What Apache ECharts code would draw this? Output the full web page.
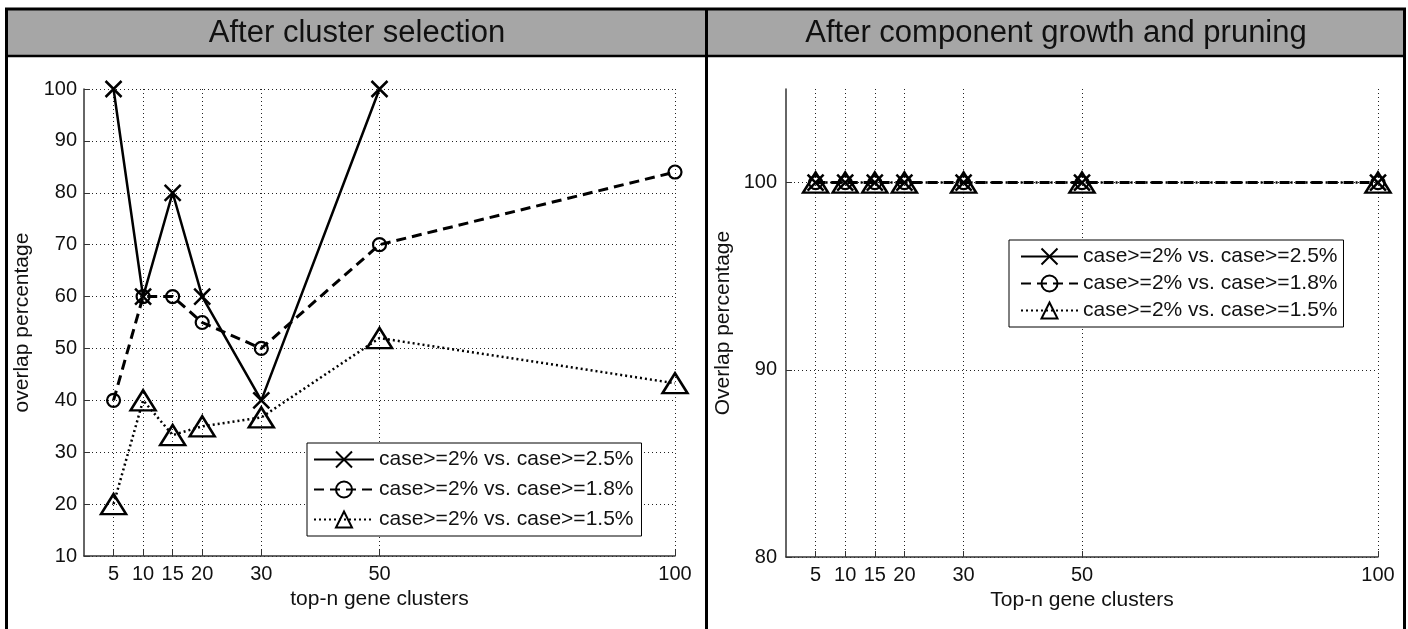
<!DOCTYPE html>
<html><head><meta charset="utf-8">
<script src="https://cdn.jsdelivr.net/npm/echarts@6/dist/echarts.min.js"></script>
<style>html,body{margin:0;padding:0;background:#fff;} #c{width:1408px;height:629px;}</style>
</head><body><div id="c"></div>
<script>
// ---- data ----
const xTicks = [5, 10, 15, 20, 30, 50, 100];
const seriesNames = ['case>=2% vs. case>=2.5%', 'case>=2% vs. case>=1.8%', 'case>=2% vs. case>=1.5%'];
const leftTitle = 'After cluster selection';
const rightTitle = 'After component growth and pruning';
const leftXName = 'top-n gene clusters';
const leftYName = 'overlap percentage';
const rightXName = 'Top-n gene clusters';
const rightYName = 'Overlap percentage';
const leftS1 = [100, 60, 80, 60, 40, 100, null];
const leftS2 = [40, 60, 60, 55, 50, 70, 84];
const leftS3 = [20, 40, 33.3, 35, 36.7, 52, 43.3];
const rightS1 = [100, 100, 100, 100, 100, 100, 100];
const rightS2 = [100, 100, 100, 100, 100, 100, 100];
const rightS3 = [100, 100, 100, 100, 100, 100, 100];
const rightYTicks = [80, 90, 100];

// ---- styles ----
const FONT = '"Liberation Sans", Arial, Helvetica, sans-serif';
const TXT = '#111';
const gridLine = { color: '#222', width: 1, type: [1, 3] };
const axisLineStyle = { color: '#333', width: 1.5 };
const xSym = 'path://M0,0L10,10M10,0L0,10';
const clear = 'rgba(0,0,0,0)';

function pairs(arr) { return xTicks.map((x, i) => [x, arr[i]]); }

function makeSeries(kind, name, arr, gi, hideLine) {
  const base = {
    type: 'line', name: name, xAxisIndex: gi, yAxisIndex: gi,
    data: pairs(arr), clip: false, animation: false,
    emphasis: { disabled: true }, silent: true
  };
  if (kind === 0) {
    Object.assign(base, {
      symbol: xSym, symbolSize: 16,
      itemStyle: { color: clear, borderColor: '#000', borderWidth: 2.5 },
      lineStyle: { color: '#000', width: 2.5, type: 'solid', opacity: hideLine ? 0 : 1 }
    });
  } else if (kind === 1) {
    Object.assign(base, {
      symbol: 'circle', symbolSize: 13,
      itemStyle: { color: clear, borderColor: '#000', borderWidth: 2.2 },
      lineStyle: { color: '#000', width: 3, type: [10, 6] }
    });
  } else {
    Object.assign(base, {
      symbol: 'triangle', symbolSize: [25, 20],
      itemStyle: { color: clear, borderColor: '#000', borderWidth: 2.5 },
      lineStyle: { color: '#000', width: 2.5, type: [2, 3] }
    });
  }
  return base;
}

function xAxisCfg(gi, name) {
  return {
    gridIndex: gi, type: 'value', min: 0, max: 100,
    name: name, nameLocation: 'middle', nameGap: 33,
    nameTextStyle: { fontSize: 21, color: TXT, fontFamily: FONT },
    axisLine: { show: true, onZero: false, lineStyle: axisLineStyle },
    axisTick: { show: true, inside: true, length: 6, customValues: xTicks, lineStyle: { color: '#333' } },
    axisLabel: { customValues: xTicks, fontSize: 20, margin: 8, color: TXT, fontFamily: FONT },
    splitLine: { show: true, lineStyle: gridLine }
  };
}

const option = {
  animation: false,
  textStyle: { fontFamily: FONT },
  graphic: [
    { type: 'rect', z: 0, shape: { x: 6.5, y: 9, width: 1398, height: 47 }, style: { fill: '#a6a6a6' } },
    { type: 'rect', z: 1, shape: { x: 6.5, y: 9, width: 1398, height: 660 }, style: { fill: 'none', stroke: '#000', lineWidth: 3 } },
    { type: 'line', z: 1, shape: { x1: 5, y1: 56, x2: 1406, y2: 56 }, style: { stroke: '#000', lineWidth: 2.5 } },
    { type: 'line', z: 1, shape: { x1: 706.5, y1: 9, x2: 706.5, y2: 640 }, style: { stroke: '#000', lineWidth: 3 } },
    { type: 'text', z: 2, x: 357, y: 33, style: { text: leftTitle, fontSize: 31, fontFamily: FONT, fill: TXT, align: 'center', verticalAlign: 'middle' } },
    { type: 'text', z: 2, x: 1056, y: 33, style: { text: rightTitle, fontSize: 31, fontFamily: FONT, fill: TXT, align: 'center', verticalAlign: 'middle' } }
  ],
  grid: [
    { left: 84, top: 89, width: 591, height: 467 },
    { left: 786, top: 89, width: 592, height: 468 }
  ],
  xAxis: [xAxisCfg(0, leftXName), xAxisCfg(1, rightXName)],
  yAxis: [
    {
      gridIndex: 0, type: 'value', min: 10, max: 100, interval: 10,
      name: leftYName, nameLocation: 'middle', nameGap: 51,
      nameTextStyle: { fontSize: 21, color: TXT, fontFamily: FONT },
      axisLine: { show: true, onZero: false, lineStyle: axisLineStyle },
      axisTick: { show: true, inside: true, length: 6, lineStyle: { color: '#333' } },
      axisLabel: { fontSize: 20, margin: 7, color: TXT, fontFamily: FONT },
      splitLine: { show: true, lineStyle: gridLine }
    },
    {
      gridIndex: 1, type: 'value', min: 80, max: 105, interval: 10,
      name: rightYName, nameLocation: 'middle', nameGap: 52,
      nameTextStyle: { fontSize: 21, color: TXT, fontFamily: FONT },
      axisLine: { show: true, onZero: false, lineStyle: axisLineStyle },
      axisTick: { show: true, inside: true, length: 6, customValues: rightYTicks, lineStyle: { color: '#333' } },
      axisLabel: { customValues: rightYTicks, fontSize: 20, margin: 9, color: TXT, fontFamily: FONT },
      splitLine: { show: true, lineStyle: gridLine }
    }
  ],
  legend: [
    {
      data: seriesNames, orient: 'vertical', left: 307, top: 443,
      itemWidth: 60, itemHeight: 20, itemGap: 9, padding: [6, 8, 6, 6],
      borderColor: '#000', borderWidth: 1, backgroundColor: '#fff',
      textStyle: { fontSize: 21, color: TXT, fontFamily: FONT }, selectedMode: false
    },
    {
      data: seriesNames, orient: 'vertical', left: 1009, top: 240,
      itemWidth: 57, itemHeight: 20, itemGap: 6, padding: [6, 6, 6, 11],
      borderColor: '#000', borderWidth: 1, backgroundColor: '#fff',
      textStyle: { fontSize: 21, color: TXT, fontFamily: FONT }, selectedMode: false
    }
  ],
  series: [
    makeSeries(0, seriesNames[0], leftS1, 0),
    makeSeries(1, seriesNames[1], leftS2, 0),
    makeSeries(2, seriesNames[2], leftS3, 0),
    makeSeries(0, seriesNames[0], rightS1, 1, true),
    makeSeries(1, seriesNames[1], rightS2, 1),
    makeSeries(2, seriesNames[2], rightS3, 1)
  ]
};

const chart = echarts.init(document.getElementById('c'), null, { renderer: 'canvas' });
chart.setOption(option);
</script>
</body></html>
